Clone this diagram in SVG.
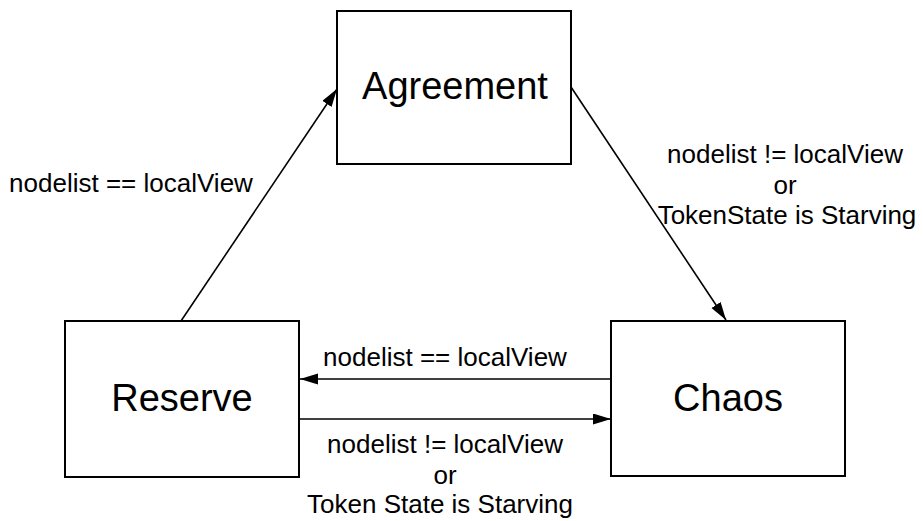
<svg xmlns="http://www.w3.org/2000/svg" width="923" height="521" viewBox="0 0 923 521">
  <style>
    .box { fill: #ffffff; stroke: #000000; stroke-width: 2; }
    .state { font-family: "Liberation Sans", Arial, sans-serif; font-size: 38px; fill: #000000; text-anchor: middle; }
    .label { font-family: "Liberation Sans", Arial, sans-serif; font-size: 26px; fill: #000000; text-anchor: middle; }
    .edge { fill: none; stroke: #000000; stroke-width: 1.6; }
  </style>
  <defs>
    <marker id="arrow" markerUnits="userSpaceOnUse" markerWidth="19" markerHeight="12" refX="18" refY="5.5" orient="auto">
      <path d="M0,0 L18,5.5 L0,11 z" fill="#000000"/>
    </marker>
  </defs>
  <rect width="923" height="521" fill="#ffffff"/>

  <g id="connectors">
    <!-- Reserve -> Agreement -->
    <line class="edge" x1="181" y1="321" x2="337" y2="89" marker-end="url(#arrow)"/>
    <text class="label" x="131" y="192">nodelist == localView</text>
    <!-- Agreement -> Chaos -->
    <line class="edge" x1="571" y1="87" x2="726" y2="320" marker-end="url(#arrow)"/>
    <text class="label" x="785" y="163">nodelist != localView</text>
    <text class="label" x="785" y="194">or</text>
    <text class="label" x="787" y="224">TokenState is Starving</text>
    <!-- Chaos -> Reserve -->
    <line class="edge" x1="611" y1="379" x2="300" y2="379" marker-end="url(#arrow)"/>
    <text class="label" x="445" y="366">nodelist == localView</text>
    <!-- Reserve -> Chaos -->
    <line class="edge" x1="300" y1="419" x2="611" y2="419" marker-end="url(#arrow)"/>
    <text class="label" x="445" y="453">nodelist != localView</text>
    <text class="label" x="445" y="484">or</text>
    <text class="label" x="440" y="513">Token State is Starving</text>
  </g>

  <g id="agreement">
    <rect class="box" x="337" y="11" width="234" height="153"/>
    <text class="state" x="455" y="99">Agreement</text>
  </g>

  <g id="reserve">
    <rect class="box" x="65" y="321" width="234" height="156"/>
    <text class="state" x="182" y="411">Reserve</text>
  </g>

  <g id="chaos">
    <rect class="box" x="611" y="321" width="234" height="155"/>
    <text class="state" x="728" y="411">Chaos</text>
  </g>
</svg>
